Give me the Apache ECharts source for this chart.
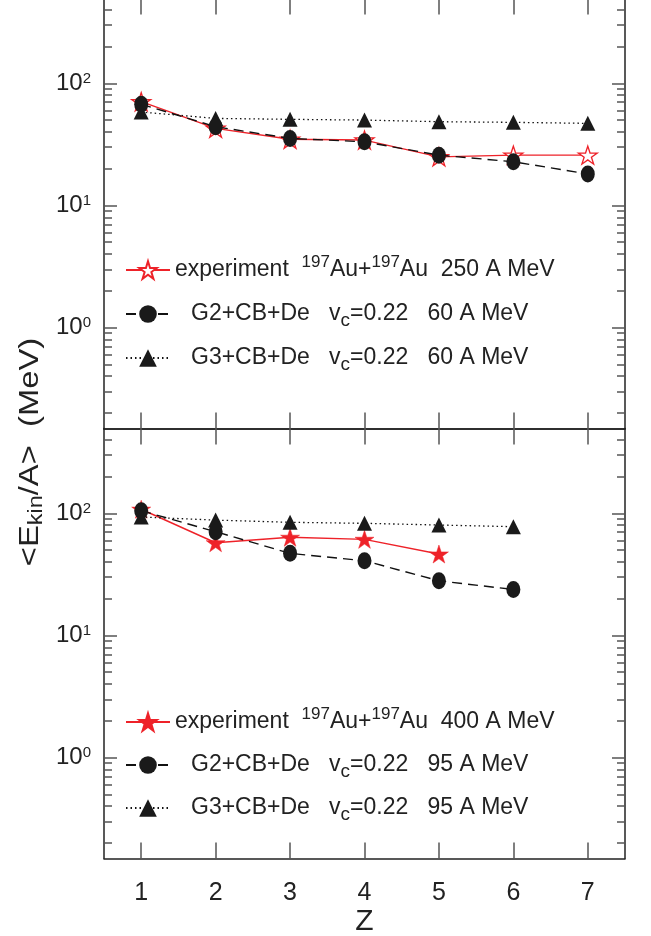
<!DOCTYPE html>
<html><head><meta charset="utf-8">
<script src="https://cdn.jsdelivr.net/npm/echarts@6/dist/echarts.min.js"></script>
<style>html,body{margin:0;padding:0;background:#fff}#c{width:651px;height:936px}</style>
</head><body><div id="c"></div>
<script>
// ---- data ----
const zValues = [1, 2, 3, 4, 5, 6, 7];
const xTickValues = [1, 2, 3, 4, 5, 6, 7];
const yMajorTicks = [1, 10, 100];
const yMinorTicks = [0.2, 0.3, 0.4, 0.5, 0.6, 0.7, 0.8, 0.9, 2, 3, 4, 5, 6, 7, 8, 9, 20, 30, 40, 50, 60, 70, 80, 90, 200, 300, 400];

// top panel (60 A MeV models, 250 A MeV experiment)
const expTop = [70.7, 42.8, 34.8, 34.3, 25.0, 25.8, 25.8];
const g2Top = [67.4, 44.1, 35.4, 33.2, 25.8, 22.8, 18.1];
const g3Top = [58.2, 51.6, 50.7, 50.0, 48.5, 47.9, 47.0];
// bottom panel (95 A MeV models, 400 A MeV experiment)
const expBot = [108, 57.4, 63.6, 61.2, 46.4];
const g2Bot = [105, 70.7, 47.0, 40.9, 28.0, 23.8];
const g3Bot = [93.3, 88.0, 84.4, 82.8, 80.2, 77.7];

const namesTop = ['exp250', 'g2_60', 'g3_60'];
const namesBot = ['exp400', 'g2_95', 'g3_95'];
const legendText = {
  exp250: 'experiment  {sup|197}Au+{sup|197}Au  250 A MeV',
  g2_60: '{gap|}G2+CB+De   v{sub|c}=0.22   60 A MeV',
  g3_60: '{gap|}G3+CB+De   v{sub|c}=0.22   60 A MeV',
  exp400: 'experiment  {sup|197}Au+{sup|197}Au  400 A MeV',
  g2_95: '{gap|}G2+CB+De   v{sub|c}=0.22   95 A MeV',
  g3_95: '{gap|}G3+CB+De   v{sub|c}=0.22   95 A MeV'
};

// ---- chart ----
const FONT = '"Liberation Sans", Arial, Helvetica, sans-serif';
const STAR = 'path://M100,0 L122.45,69.1 L195.1,69.1 L136.3,111.8 L158.8,180.9 L100,138.2 L41.2,180.9 L63.7,111.8 L4.9,69.1 L77.55,69.1 Z';
const RED = '#ee2229';
const YMIN = 0.149, YMAX = 495;
const pairs = (arr) => arr.map((v, i) => [zValues[i], v]);
const minorIn = yMinorTicks.filter(v => v > YMIN && v < YMAX);

const axisLineStyle = { color: '#222', width: 1.5 };
const tickStyle = { color: '#555', width: 1.5 };

function xAxisDef(grid, pos, labels) {
  return {
    type: 'value', gridIndex: grid, position: pos, min: 0.5, max: 7.5,
    axisLine: { show: true, onZero: false, lineStyle: axisLineStyle },
    axisTick: { show: true, inside: true, length: 16, customValues: xTickValues, lineStyle: tickStyle },
    axisLabel: labels ? { show: true, customValues: xTickValues, margin: 22, fontSize: 25, color: '#222', fontFamily: FONT } : { show: false },
    splitLine: { show: false },
    name: labels ? 'Z' : '', nameLocation: 'middle', nameGap: 47,
    nameTextStyle: { fontSize: 30, color: '#222', fontFamily: FONT }
  };
}
function yAxisDef(grid, pos, minor, labels) {
  return {
    type: 'log', gridIndex: grid, position: pos, min: YMIN, max: YMAX,
    axisLine: { show: !minor, onZero: false, lineStyle: axisLineStyle },
    axisTick: { show: true, inside: true, length: minor ? 8 : 13, customValues: minor ? minorIn : yMajorTicks, lineStyle: tickStyle },
    axisLabel: labels ? {
      show: true, customValues: yMajorTicks, margin: 13,
      formatter: (v) => '10{sup|' + Math.round(Math.log10(v)) + '}',
      fontSize: 24, lineHeight: 24, color: '#222', fontFamily: FONT,
      rich: { sup: { fontSize: 15, lineHeight: 12, verticalAlign: 'top', color: '#222', fontFamily: FONT } }
    } : { show: false },
    splitLine: { show: false }, minorTick: { show: false }
  };
}

const legendRich = {
  sup: { fontSize: 17, lineHeight: 12, verticalAlign: 'top', color: '#222', fontFamily: FONT },
  sub: { fontSize: 19, lineHeight: 13, verticalAlign: 'bottom', color: '#222', fontFamily: FONT },
  gap: { width: 16 }
};
function legendDef(names, top, gap) {
  return {
    data: names, orient: 'vertical', left: 125, top: top, padding: 0,
    itemWidth: 44, itemHeight: 22, itemGap: gap,
    formatter: (n) => legendText[n],
    textStyle: { fontSize: 23, lineHeight: 32, color: '#222', fontFamily: FONT, rich: legendRich },
    selectedMode: false
  };
}

function expSeries(name, xi, yi, data, filled) {
  return {
    name, type: 'line', xAxisIndex: xi, yAxisIndex: yi, data: pairs(data),
    symbol: STAR, symbolSize: [19, 18], symbolKeepAspect: false,
    lineStyle: { color: RED, width: 1.4, type: 'solid' },
    itemStyle: filled ? { color: RED, borderColor: RED, borderWidth: 0.5 } : { color: '#fff', borderColor: RED, borderWidth: 1.3 },
    animation: false, z: 2
  };
}
function g2Series(name, xi, yi, data) {
  return {
    name, type: 'line', xAxisIndex: xi, yAxisIndex: yi, data: pairs(data),
    symbol: 'circle', symbolSize: [14, 17],
    lineStyle: { color: '#111', width: 1.4, type: [10, 6] },
    itemStyle: { color: '#1a1a1a' }, animation: false, z: 3
  };
}
function g3Series(name, xi, yi, data) {
  return {
    name, type: 'line', xAxisIndex: xi, yAxisIndex: yi, data: pairs(data),
    symbol: 'triangle', symbolSize: [15, 15],
    lineStyle: { color: '#111', width: 1.3, type: [1.5, 3] },
    itemStyle: { color: '#1a1a1a' }, animation: false, z: 4
  };
}

const option = {
  backgroundColor: '#fff',
  animation: false,
  grid: [
    { left: 104, right: 26, top: -1.5, height: 430, outerBoundsMode: 'none', containLabel: false },
    { left: 104, right: 26, top: 428.5, height: 430, outerBoundsMode: 'none', containLabel: false }
  ],
  xAxis: [
    xAxisDef(0, 'bottom', false), xAxisDef(0, 'top', false),
    xAxisDef(1, 'bottom', true), xAxisDef(1, 'top', false)
  ],
  yAxis: [
    yAxisDef(0, 'left', false, true), yAxisDef(0, 'left', true, false),
    yAxisDef(0, 'right', false, false), yAxisDef(0, 'right', true, false),
    yAxisDef(1, 'left', false, true), yAxisDef(1, 'left', true, false),
    yAxisDef(1, 'right', false, false), yAxisDef(1, 'right', true, false)
  ],
  legend: [legendDef(namesTop, 254, 12), legendDef(namesBot, 706, 11)],
  graphic: [{
    type: 'text', x: 30, y: 452, rotation: Math.PI / 2, scaleX: 1.17,
    style: {
      text: '<E{sub|kin}/A>  (MeV)', fontSize: 28, lineHeight: 32, fontFamily: FONT, fill: '#222',
      align: 'center', verticalAlign: 'middle',
      rich: { sub: { fontSize: 20, lineHeight: 22, verticalAlign: 'bottom', fontFamily: FONT, fill: '#222' } }
    }
  }],
  series: [
    expSeries('exp250', 0, 0, expTop, false),
    g2Series('g2_60', 0, 0, g2Top),
    g3Series('g3_60', 0, 0, g3Top),
    expSeries('exp400', 2, 4, expBot, true),
    g2Series('g2_95', 2, 4, g2Bot),
    g3Series('g3_95', 2, 4, g3Bot)
  ]
};
const chart = echarts.init(document.getElementById('c'), null, { renderer: 'canvas' });
chart.setOption(option);
</script>
</body></html>
